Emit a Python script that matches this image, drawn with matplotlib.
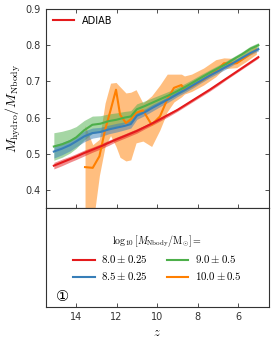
import matplotlib
matplotlib.use("Agg")
import matplotlib.pyplot as plt
import numpy as np

plt.rcParams['mathtext.fontset'] = 'cm'
plt.rcParams['font.family'] = ['DejaVu Sans', 'Noto Sans CJK SC']

# ---- data ----
z_main = [15.1, 14.7, 14.3, 14.0, 13.6, 13.2, 12.8, 12.4, 12.0, 11.6, 11.3, 11.0,
          10.6, 10.2, 9.8, 9.4, 9.0, 8.6, 8.2, 7.8, 7.4, 7.0, 6.6, 6.2, 5.8, 5.4, 5.0]
red = [0.467, 0.476, 0.485, 0.492, 0.502, 0.511, 0.52, 0.53, 0.54, 0.549, 0.556, 0.563,
       0.574, 0.585, 0.597, 0.609, 0.621, 0.635, 0.649, 0.663, 0.677, 0.692, 0.707, 0.722, 0.737, 0.752, 0.767]
red_err = [0.009, 0.009, 0.008, 0.008, 0.008, 0.007, 0.007, 0.007, 0.006, 0.006, 0.006, 0.006,
           0.005, 0.005, 0.005, 0.005, 0.004, 0.004, 0.004, 0.004, 0.004, 0.004, 0.003, 0.003, 0.003, 0.003, 0.003]
blue = [0.506, 0.514, 0.524, 0.534, 0.548, 0.557, 0.56, 0.567, 0.572, 0.577, 0.582, 0.605,
        0.615, 0.628, 0.64, 0.652, 0.665, 0.677, 0.69, 0.703, 0.716, 0.728, 0.74, 0.752, 0.765, 0.778, 0.789]
blue_err = [0.018, 0.017, 0.016, 0.015, 0.015, 0.014, 0.013, 0.012, 0.012, 0.011, 0.011, 0.01,
            0.009, 0.009, 0.008, 0.008, 0.007, 0.007, 0.007, 0.006, 0.006, 0.006, 0.006, 0.005, 0.005, 0.005, 0.005]
green = [0.52, 0.526, 0.535, 0.545, 0.565, 0.58, 0.583, 0.59, 0.594, 0.6, 0.603, 0.623,
         0.632, 0.642, 0.652, 0.662, 0.673, 0.685, 0.698, 0.711, 0.724, 0.736, 0.748, 0.762, 0.775, 0.79, 0.8]
green_err = [0.038, 0.036, 0.033, 0.03, 0.027, 0.024, 0.022, 0.02, 0.019, 0.017, 0.016, 0.015,
             0.014, 0.013, 0.012, 0.011, 0.01, 0.01, 0.009, 0.009, 0.008, 0.008, 0.008, 0.007, 0.007, 0.007, 0.007]

z_big = [13.56, 13.18, 12.85, 12.57, 12.3, 12.03, 11.83, 11.54, 11.3, 11.04, 10.7, 10.27,
         9.86, 9.5, 9.17, 8.8, 8.65, 8.3, 7.7, 7.1, 6.7, 6.07, 5.6, 5.1]
orange = [0.463, 0.461, 0.493, 0.566, 0.62, 0.677, 0.608, 0.585, 0.595, 0.613, 0.62, 0.58,
          0.603, 0.65, 0.682, 0.69, 0.677, 0.685, 0.705, 0.727, 0.75, 0.75, 0.768, 0.787]
orange_lo = [0.30, 0.30, 0.44, 0.52, 0.55, 0.52, 0.49, 0.48, 0.483, 0.53, 0.535, 0.52,
             0.566, 0.616, 0.643, 0.657, 0.665, 0.672, 0.69, 0.713, 0.735, 0.738, 0.755, 0.775]
orange_hi = [0.578, 0.525, 0.54, 0.64, 0.695, 0.697, 0.685, 0.668, 0.67, 0.677, 0.64, 0.66,
             0.69, 0.72, 0.72, 0.72, 0.715, 0.72, 0.737, 0.76, 0.765, 0.763, 0.782, 0.8]

labels = [r'$8.0\pm0.25$', r'$8.5\pm0.25$', r'$9.0\pm0.5$', r'$10.0\pm0.5$']
colors = ['#e41a1c', '#377eb8', '#4daf4a', '#ff7f00']

fig = plt.figure(figsize=(2.74, 3.47), dpi=100)
ax = fig.add_axes([0.167, 0.4006, 0.815, 0.5734])
ax2 = fig.add_axes([0.167, 0.115, 0.815, 0.2856])

def band(x, y, e, c, a):
    y = np.array(y); e = np.array(e)
    ax.fill_between(x, y - e, y + e, color=c, alpha=a, lw=0)

ax.fill_between(z_big, orange_lo, orange_hi, color=colors[3], alpha=0.5, lw=0)
band(z_main, green, green_err, colors[2], 0.5)
band(z_main, blue, blue_err, colors[1], 0.5)
band(z_main, red, red_err, colors[0], 0.5)
ax.plot(z_big, orange, color=colors[3], lw=1.5)
ax.plot(z_main, green, color=colors[2], lw=1.5)
ax.plot(z_main, blue, color=colors[1], lw=1.5)
l_red, = ax.plot(z_main, red, color=colors[0], lw=1.5)

ax.set_xlim(15.5, 4.47)
ax.set_ylim(0.35, 0.9)
ax.set_yticks([0.4, 0.5, 0.6, 0.7, 0.8, 0.9])
ax.set_xticks([14, 12, 10, 8, 6])
ax.tick_params(direction='in', top=True, right=True, labelbottom=False,
               labelsize=7, colors='#333333', length=3, width=0.6)
ax.set_ylabel(r'$M_{\rm hydro}/M_{\rm Nbody}$', fontsize=10, labelpad=2)
ax.legend([l_red], ['ADIAB'], loc='upper left', frameon=False, fontsize=7,
          handlelength=2.2, borderaxespad=0.3)

ax2.set_xlim(15.5, 4.47)
ax2.set_ylim(0, 1)
ax2.set_yticks([])
ax2.set_xticks([14, 12, 10, 8, 6])
ax2.tick_params(direction='in', labelsize=7, colors='#333333', length=3, width=0.6)
ax2.set_xlabel(r'$z$', fontsize=9, labelpad=3)
handles = [plt.Line2D([], [], color=c, lw=1.5) for c in colors]
ax2.legend(handles, labels,
           ncol=2, loc='center', bbox_to_anchor=(0.5, 0.5), frameon=False, fontsize=7.8,
           title=r'$\log_{10}[M_{\rm Nbody}/{\rm M}_{\odot}]=$', title_fontsize=7.2,
           handlelength=2.0, handletextpad=0.6, columnspacing=1.7, labelspacing=0.45)
ax2.text(0.075, 0.11, '①', transform=ax2.transAxes, fontsize=10.5, ha='center', va='center',
         family=['DejaVu Sans', 'Noto Sans CJK SC'])

for a in (ax, ax2):
    for s in a.spines.values():
        s.set_color('#333333')
        s.set_linewidth(0.8)

fig.savefig('out.png', dpi=100)
